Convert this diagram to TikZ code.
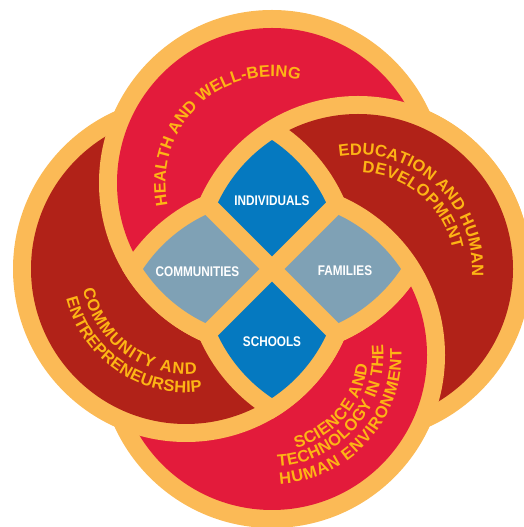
\documentclass[tikz,border=0pt]{standalone}
\usepackage{fontspec}
\setmainfont{Liberation Sans}
\usetikzlibrary{decorations.text,calc}
\definecolor{ringor}{HTML}{FBBA56}
\definecolor{petred}{HTML}{E31B3B}
\definecolor{petdark}{HTML}{B12218}
\definecolor{dblue}{HTML}{0579C0}
\definecolor{dgrey}{HTML}{7FA1B5}
\definecolor{ptext}{HTML}{FDB515}
\newcommand\petalfont{\fontsize{16.5}{16.5}\selectfont\bfseries}
\newcommand\ringdisk[2]{\fill[ringor] (#1) circle[radius=173pt]; \fill[#2] (#1) circle[radius=155pt];}
\tikzset{
  petaltext/.style={font=\petalfont, decorate, decoration={text along path, text={|\petalfont|#1}, text align=fit to path, text color=ptext}},
  centrelabel/.style={text=white, font=\bfseries\fontsize{14}{14}\selectfont, inner sep=0pt}
}
\begin{document}
\begin{tikzpicture}[x=1pt,y=1pt]
\useasboundingbox (0,0) rectangle (524,527);
\coordinate (C) at (272,258);
\coordinate (T) at (272,344);
\coordinate (R) at (358,258);
\coordinate (B) at (272,172);
\coordinate (L) at (186,258);
% rings, cyclic overlap
\ringdisk{R}{petdark}
\ringdisk{B}{petred}
\ringdisk{L}{petdark}
\ringdisk{T}{petred}
\begin{scope}
  \clip (272,258) rectangle (540,540);
  \ringdisk{R}{petdark}
\end{scope}
% central orange region
\begin{scope}\clip (L) circle[radius=173pt]; \fill[ringor] (R) circle[radius=173pt];\end{scope}
\begin{scope}\clip (T) circle[radius=173pt]; \fill[ringor] (B) circle[radius=173pt];\end{scope}
% diamonds
\begin{scope}
  \clip (L) circle[radius=155pt]; \clip (R) circle[radius=155pt];
  \fill[dblue] (272,270.73) -- ++(-250,250) -- ++(500,0) -- cycle;
  \fill[dblue] (272,245.27) -- ++(-250,-250) -- ++(500,0) -- cycle;
\end{scope}
\begin{scope}
  \clip (T) circle[radius=155pt]; \clip (B) circle[radius=155pt];
  \fill[dgrey] (259.27,258) -- ++(-250,250) -- ++(0,-500) -- cycle;
  \fill[dgrey] (284.73,258) -- ++(250,250) -- ++(0,-500) -- cycle;
\end{scope}
% centre labels
\node[centrelabel] (ind) at (272,326.3) {\scalebox{0.84}[1]{INDIVIDUALS}};
\node[centrelabel] (com) at (197.5,255.3) {\scalebox{0.84}[1]{COMMUNITIES}};
\node[centrelabel] (fam) at (345,256.3) {\scalebox{0.84}[1]{FAMILIES}};
\node[centrelabel] (sch) at (272,185.3) {\scalebox{0.84}[1]{SCHOOLS}};
% petal texts
\path[petaltext={HEALTH AND WELL-BEING}] ([shift={(192:106.5pt)}]T) arc[start angle=192, end angle=75, radius=106.5pt];
\path[petaltext={EDUCATION AND HUMAN}] ([shift={(99.5:114pt)}]R) arc[start angle=99.5, end angle=-3.5, radius=114pt];
\path[petaltext={DEVELOPMENT}] ([shift={(87.5:96.5pt)}]R) arc[start angle=87.5, end angle=11.5, radius=96.5pt];
\path[petaltext={COMMUNITY AND}] ([shift={(191:105pt)}]L) arc[start angle=191, end angle=276, radius=105pt];
\path[petaltext={ENTREPRENEURSHIP}] ([shift={(194:123.5pt)}]L) arc[start angle=194, end angle=277.5, radius=123.5pt];
\path[petaltext={SCIENCE AND}] ([shift={(284.5:96pt)}]B) arc[start angle=284.5, end angle=354.5, radius=96pt];
\path[petaltext={TECHNOLOGY IN THE}] ([shift={(273:111.5pt)}]B) arc[start angle=273, end angle=365.5, radius=111.5pt];
\path[petaltext={HUMAN ENVIRONMENT}] ([shift={(273.5:129.5pt)}]B) arc[start angle=273.5, end angle=363, radius=129.5pt];
\end{tikzpicture}
\end{document}
